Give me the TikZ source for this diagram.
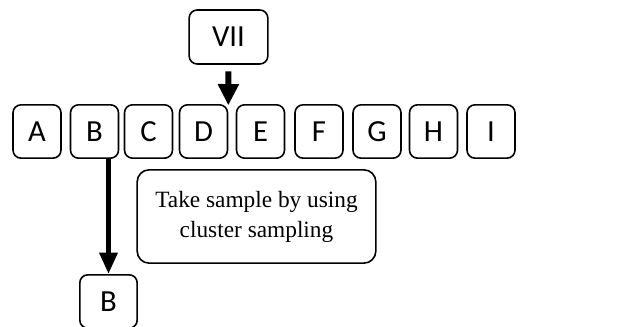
\documentclass[tikz,border=0pt]{standalone}
\usepackage{fontspec}
\setmainfont{Liberation Serif}
\newfontfamily\cellfont{Carlito}
\usetikzlibrary{arrows.meta}

\begin{document}
\begin{tikzpicture}[
    x=0.75pt, y=-0.75pt,
    >=Stealth,
    cell/.style={draw, line width=1.2pt, rounded corners=6pt, minimum width=36pt,
        minimum height=40pt, inner sep=0pt, font=\cellfont\fontsize{23}{26}\selectfont},
    note/.style={draw, line width=1.2pt, rounded corners=9pt, minimum width=179pt,
        minimum height=70pt, align=center, font=\fontsize{17.5}{22.5}\selectfont},
    pick/.style={-{Triangle[width=15pt,length=16pt]}, line width=4.5pt}
]

% Page frame (pixel units)
\useasboundingbox (0,0) rectangle (625,327);

% Selected cluster number
\node[cell, minimum width=59pt, minimum height=40.5pt] (VII) at (228.5,37) {VII};

% Clusters A ... I
\node[cell] (A) at (37,131.5) {A};
\node[cell] (B) at (94.5,131.5) {B};
\node[cell] (C) at (148.5,131.5) {C};
\node[cell] (D) at (203.5,131.5) {D};
\node[cell] (E) at (260.5,131.5) {E};
\node[cell] (F) at (319,131.5) {F};
\node[cell] (G) at (377,131.5) {G};
\node[cell] (H) at (433.5,131.5) {H};
\node[cell] (I) at (491,131.5) {I};

% Arrow tip lands between D and E
\coordinate (DE) at (D.north east);
\draw[pick, shorten <=5pt, shorten >=-1pt] (VII.south) -- (DE);

% Note box
\node[note] (take) at (256.5,216.5) {Take sample by using\\cluster sampling};

% Chosen cluster
\node[cell, minimum width=43pt] (Bout) at (108.5,301.5) {B};
\draw[pick, line width=3.8pt, -{Triangle[width=13pt,length=16pt]}]
    (Bout.north |- B.south) -- (Bout.north);

\end{tikzpicture}
\end{document}
